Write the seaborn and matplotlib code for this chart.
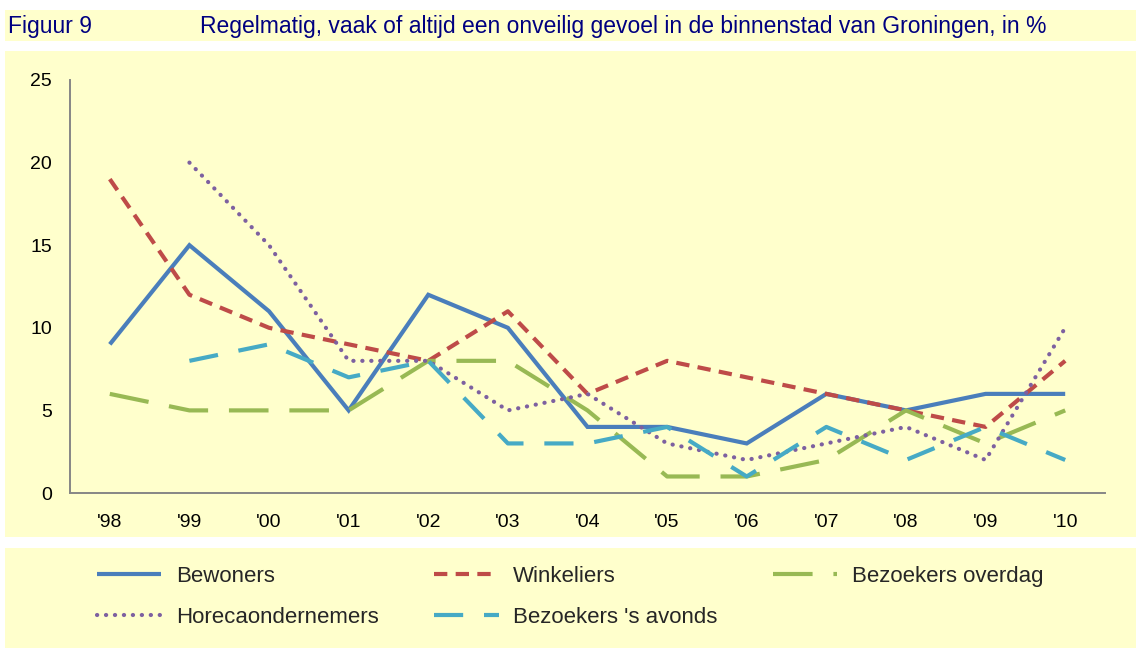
import numpy as np
import pandas as pd
import matplotlib
matplotlib.use("Agg")
import matplotlib.pyplot as plt
from matplotlib.patches import Rectangle
import seaborn as sns

# data
years = ["'98", "'99", "'00", "'01", "'02", "'03", "'04", "'05", "'06", "'07", "'08", "'09", "'10"]
bewoners = [9, 15, 11, 5, 12, 10, 4, 4, 3, 6, 5, 6, 6]
winkeliers = [19, 12, 10, 9, 8, 11, 6, 8, 7, 6, 5, 4, 8]
bezoekers_overdag = [6, 5, 5, 5, 8, 8, 5, 1, 1, 2, 5, 3, 5]
horeca = [np.nan, 20, 15, 8, 8, 5, 6, 3, 2, 3, 4, 2, 10]
bezoekers_avonds = [np.nan, 8, 9, 7, 8, 3, 3, 4, 1, 4, 2, 4, 2]

series_names = ["Bewoners", "Winkeliers", "Bezoekers overdag", "Horecaondernemers", "Bezoekers 's avonds"]
series_values = [bewoners, winkeliers, bezoekers_overdag, horeca, bezoekers_avonds]
colors = ["#4A7EBB", "#BE4B48", "#98B954", "#7D60A0", "#46AAC5"]
dash_styles = ["", (3.2, 2.0), (9.5, 5.0), (0.05, 2.1), (7.0, 5.0)]

rows = []
for name, vals in zip(series_names, series_values):
    for i, v in enumerate(vals):
        rows.append({"pos": i, "jaar": years[i], "serie": name, "pct": v})
df = pd.DataFrame(rows).dropna()

sns.set_style("white")
plt.rcParams["font.family"] = ["Liberation Sans", "DejaVu Sans"]

W, H = 1136, 650
fig = plt.figure(figsize=(W / 100, H / 100), dpi=100)
fig.patch.set_facecolor("white")

bg = "#FFFFCC"
# title strip, chart box and legend box
for (x0, y0, x1, y1) in [(5, 10, 1136, 41), (5, 51, 1136, 537), (5, 548, 1136, 648)]:
    fig.patches.append(Rectangle((x0 / W, 1 - y1 / H), (x1 - x0) / W, (y1 - y0) / H,
                                 transform=fig.transFigure, facecolor=bg, edgecolor="none", zorder=-5))

fig.text(8 / W, 1 - 26 / H, "Figuur 9", color="#000080", fontsize=16.5, va="center", ha="left")
fig.text(200 / W, 1 - 26 / H, "Regelmatig, vaak of altijd een onveilig gevoel in de binnenstad van Groningen, in %",
         color="#000080", fontsize=16.5, va="center", ha="left")

ax = fig.add_axes([70 / W, 1 - 493 / H, (1105 - 70) / W, (493 - 80) / H])
ax.set_zorder(2)
ax.set_facecolor("none")

sns.lineplot(data=df, x="pos", y="pct", hue="serie", hue_order=series_names,
             palette=dict(zip(series_names, colors)), style="serie", style_order=series_names,
             dashes=dict(zip(series_names, dash_styles)), linewidth=3.0, legend=False, ax=ax)

lines = ax.get_lines()
for ln, name in zip(lines, series_names):
    ln.set_solid_capstyle("butt")
    ln.set_dash_capstyle("round" if name == "Horecaondernemers" else "butt")
    ln.set_solid_joinstyle("miter")

ax.set_xlim(-0.5, 12.5)
ax.set_ylim(0, 25)
ax.set_xticks(range(len(years)))
ax.set_xticklabels(years)
ax.set_yticks([0, 5, 10, 15, 20, 25])
ax.tick_params(axis="both", length=0, labelsize=14, colors="black")
ax.tick_params(axis="x", pad=15)
ax.tick_params(axis="y", pad=13)
ax.set_xlabel("")
ax.set_ylabel("")
for side in ["top", "right"]:
    ax.spines[side].set_visible(False)
for side in ["left", "bottom"]:
    ax.spines[side].set_color("#868686")
    ax.spines[side].set_linewidth(1.4)

order = [0, 3, 1, 4, 2]
handles = [lines[i] for i in order]
labels = [series_names[i] for i in order]
fig.legend(handles, labels, ncol=3, loc="center left", bbox_to_anchor=(97 / W, 1 - 597 / H),
           frameon=False, fontsize=16, handlelength=2.9, handletextpad=0.65,
           columnspacing=2.5, labelspacing=0.9, borderpad=0, borderaxespad=0)

fig.savefig("out.png", dpi=100, facecolor="white")
